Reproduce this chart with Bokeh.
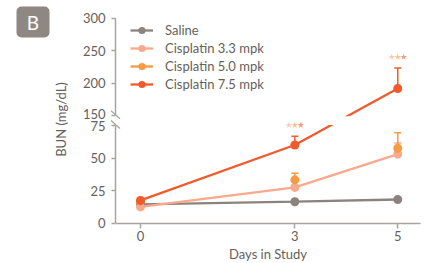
import math
from bokeh.plotting import figure
from bokeh.models import (ColumnDataSource, Whisker, TeeHead, Legend, LegendItem,
                          FixedTicker, Range1d)
from bokeh.core.properties import value
from bokeh.embed import file_html
from bokeh.resources import INLINE

# ---- data ----
days = [0, 3, 5]
saline = [14.5, 16.5, 18.2]
cis33 = [12.5, 27.5, 53.0]
cis50 = [17.0, 33.3, 57.5]
cis75 = [17.5, 60.0, 192.0]
cis33_err = [0, 0, 8.5]
cis50_err = [0, 5.0, 12.0]
cis75_err = [0, 6.8, 31.5]
star_days = [3, 5]
series_names = ["Saline", "Cisplatin 3.3 mpk", "Cisplatin 5.0 mpk", "Cisplatin 7.5 mpk"]
colors = ["#8c837f", "#f9a98c", "#f89a43", "#f15a2b"]
y_ticks_lower = [0, 25, 50, 75]
y_ticks_upper = [150, 200, 250, 300]
x_ticks = [0, 3, 5]
x_title = "Days in Study"
y_title = "BUN (mg/dL)"
panel_tag = "B"

# broken axis: lower panel 0-75 at full scale, upper 150-300 at half scale
BREAK_LO, BREAK_HI, GAP = 75.0, 150.0, 7.4


def disp(v):
    if v <= BREAK_LO:
        return v
    return BREAK_LO + GAP + (v - BREAK_HI) / 2.0


def dl(vals):
    return [disp(v) for v in vals]


FONT = "Lato"
TXT = "#655f5c"
AXC = "#a9a4a1"

PXD = 51.45            # pixels per day
PYD = 1.3027           # pixels per display unit
PX = 1.0 / PXD
PY = 1.0 / PYD
X0, Y0 = 140.0, 222.7  # canvas pixel of (day 0, value 0)
W, H = 424, 263


def xd(px):
    return (px - X0) / PXD


def yd(py):
    return (Y0 - py) / PYD


AX_X = xd(115)
X_END = xd(420)

p = figure(width=W, height=H, output_backend="svg", toolbar_location=None,
           x_range=Range1d(xd(0), xd(W)), y_range=Range1d(yd(H), yd(0)),
           min_border=0)
p.outline_line_color = None
p.xgrid.grid_line_color = None
p.ygrid.grid_line_color = None
p.background_fill_color = "white"

# ---- x axis ----
xa = p.xaxis[0]
xa.fixed_location = 0
xa.ticker = FixedTicker(ticks=x_ticks)
xa.bounds = (AX_X, X_END)
xa.axis_line_color = AXC
xa.axis_line_width = 1.5
xa.major_tick_line_color = AXC
xa.major_tick_line_width = 1.5
xa.major_tick_in = 0
xa.major_tick_out = 5
xa.minor_tick_line_color = None
xa.major_label_text_font = FONT
xa.major_label_text_font_size = "13px"
xa.major_label_text_color = TXT
xa.major_label_standoff = 3
xa.axis_label = x_title
xa.axis_label_text_font = FONT
xa.axis_label_text_font_size = "13px"
xa.axis_label_text_font_style = "normal"
xa.axis_label_text_color = TXT
xa.axis_label_standoff = 1

# ---- y axis: native ticks; broken line and tick labels drawn as glyphs ----
ya = p.yaxis[0]
ya.fixed_location = AX_X
tick_pos = dl(y_ticks_lower) + dl(y_ticks_upper)
tick_lab = [str(t) for t in y_ticks_lower + y_ticks_upper]
ya.ticker = FixedTicker(ticks=tick_pos)
ya.axis_line_color = None
ya.major_tick_line_color = AXC
ya.major_tick_line_width = 1.5
ya.minor_tick_line_color = None
ya.major_tick_out = 4
ya.major_tick_in = 0
ya.major_label_text_color = None

# nudge the two labels at the break apart a little, as in the original
lab_dy = [0.0] * len(tick_pos)
lab_dy[len(y_ticks_lower) - 1] = 1.0     # "75" slightly down
lab_dy[len(y_ticks_lower)] = -2.0        # "150" slightly up
p.text(x=[xd(105)] * len(tick_pos), y=tick_pos, text=tick_lab, y_offset=lab_dy,
       text_color=TXT, text_font=value(FONT), text_font_size="13px",
       text_align="right", text_baseline="middle")

p.text(x=[xd(60)], y=[yd(119)], text=[y_title], angle=math.pi / 2,
       text_color=TXT, text_font=value(FONT), text_font_size="13px",
       text_align="center", text_baseline="middle")

p.segment(x0=[AX_X, AX_X], y0=[0, disp(BREAK_HI)], x1=[AX_X, AX_X],
          y1=[disp(BREAK_LO), disp(300)], line_color=AXC, line_width=1.5)

# ---- series ----
l0 = p.line(days, dl(saline), line_color=colors[0], line_width=2.3)
l1 = p.line(days, dl(cis33), line_color=colors[1], line_width=2.3)
# 5.0 mpk has no connecting line in the chart; this proxy only feeds the legend
l2 = p.line(days, [float("nan")] * len(days), line_color=colors[2], line_width=2.3)
l3 = p.line(days, dl(cis75), line_color=colors[3], line_width=2.3)

# white band hides the line where it crosses the axis break
p.quad(left=[AX_X + 2 * PX], right=[X_END], bottom=[disp(BREAK_LO) + 0.3],
       top=[disp(BREAK_HI) - 0.3], fill_color="white", line_color=None)

# error bars (upper only)
for vals, errs, col in [(cis33, cis33_err, colors[1]), (cis50, cis50_err, colors[2]),
                        (cis75, cis75_err, colors[3])]:
    xs = [d for d, e in zip(days, errs) if e > 0]
    lo = [disp(v) for v, e in zip(vals, errs) if e > 0]
    hi = [disp(v + e) for v, e in zip(vals, errs) if e > 0]
    src = ColumnDataSource(dict(x=xs, lo=lo, hi=hi))
    w = Whisker(source=src, base="x", lower="lo", upper="hi", dimension="height",
                line_color=col, line_width=1.5,
                upper_head=TeeHead(size=7, line_color=col, line_width=1.5),
                lower_head=None)
    p.add_layout(w)

s0 = p.scatter(days, dl(saline), size=9, fill_color=colors[0], line_color=None)
s1 = p.scatter(days, dl(cis33), size=9, fill_color=colors[1], line_color=None)
s2 = p.scatter(days, dl(cis50), size=9, fill_color=colors[2], line_color=None)
s3 = p.scatter(days, dl(cis75), size=9, fill_color=colors[3], line_color=None)

# significance stars above the 7.5 mpk error bars
star_y = [disp(cis75[days.index(d)] + cis75_err[days.index(d)]) + 11 * PY
          for d in star_days]
for i, c in enumerate(colors[1:]):
    p.scatter([d + (i - 1) * 6 * PX for d in star_days], star_y, marker="star",
              size=7, fill_color=c, fill_alpha=0.6, line_color=None)

# axis break marks
for yc in [disp(BREAK_HI) + 0.9, disp(BREAK_LO) + 0.8]:
    p.segment(x0=[AX_X - 4.5 * PX], y0=[yc + 4 * PY], x1=[AX_X + 4.5 * PX],
              y1=[yc - 4 * PY], line_color=AXC, line_width=1.3)

# ---- legend ----
items = [LegendItem(label=n, renderers=[l, s]) for n, l, s in
         zip(series_names, [l0, l1, l2, l3], [s0, s1, s2, s3])]
leg = Legend(items=items, location=(130, 170), orientation="vertical",
             padding=0, margin=0, spacing=0, glyph_width=23, glyph_height=18,
             label_height=18, label_standoff=12, label_text_font=FONT,
             label_text_font_size="13px", label_text_color=TXT,
             border_line_color=None, background_fill_alpha=0)
p.add_layout(leg)

# ---- panel badge ----
p.quad(left=[xd(16)], right=[xd(49)], top=[yd(6)], bottom=[yd(37)],
       fill_color="#8f8782", line_color=None, border_radius=5)
p.text(x=[xd(32.5)], y=[yd(22)], text=[panel_tag], text_color="white",
       text_font=value(FONT), text_font_size="19px", text_align="center",
       text_baseline="middle")

open("out.html", "w").write(file_html(p, INLINE))
